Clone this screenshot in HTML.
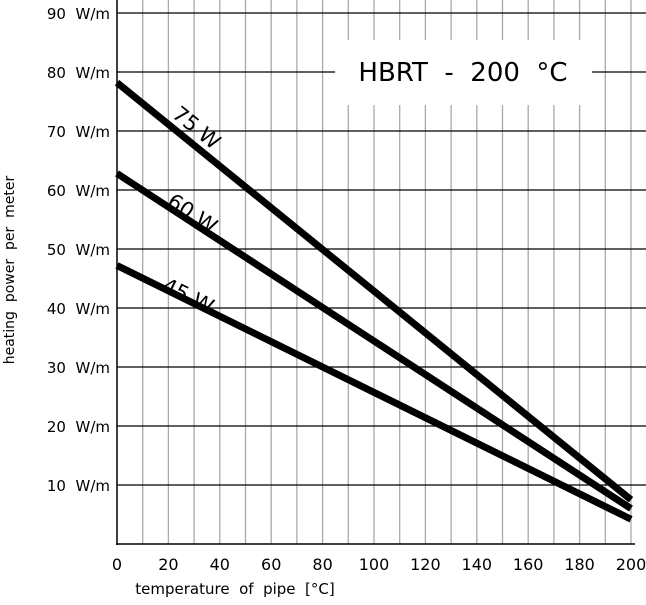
<!DOCTYPE html>
<html><head><meta charset="utf-8"><style>
body{margin:0;background:#fff}
svg text{font-family:"DejaVu Sans","Liberation Sans",sans-serif;fill:#000;white-space:pre}
</style></head><body>
<svg width="646" height="600" xmlns="http://www.w3.org/2000/svg">
<g id="grid"></g>
<g id="series"></g>
<g id="labels"></g>
</svg>
<script>
const xTicks=[0,20,40,60,80,100,120,140,160,180,200];
const yTicks=[10,20,30,40,50,60,70,80,90];
const seriesNames=["75 W","60 W","45 W"];
const startValues=[78.2,62.8,47.2];
const endValues=[7.5,6.0,4.2];
const labelAt=[[21,72.5],[19,57.5],[17,43]];
const NS="http://www.w3.org/2000/svg";
const X=v=>117+v*(631-117)/200;
const Y=v=>544-v*(544-13)/90;
function mk(t,a,p){const e=document.createElementNS(NS,t);for(const k in a)e.setAttribute(k,a[k]);p.appendChild(e);return e;}
const g=document.getElementById('grid'),s=document.getElementById('series'),l=document.getElementById('labels');
for(let v=10;v<=200;v+=10){const e=mk('line',{x1:X(v),x2:X(v),y1:0,y2:544,stroke:'#aaa','stroke-width':1.3},g);

}
yTicks.forEach(v=>{const e=mk('line',{x1:117,x2:646,y1:Y(v),y2:Y(v),stroke:'#000','stroke-width':1.2},g);


const t=mk('text',{x:110,y:Y(v)+6,'text-anchor':'end','font-size':15},l);t.textContent=v+"  W/m";

});
let a=mk('line',{x1:117,x2:117,y1:0,y2:545,stroke:'#000','stroke-width':1.5},g);


a=mk('line',{x1:116,x2:635,y1:544,y2:544,stroke:'#000','stroke-width':1.5},g);


xTicks.forEach(v=>{const t=mk('text',{x:X(v),y:570,'text-anchor':'middle','font-size':16},l);t.textContent=v;

});
const r=mk('rect',{x:335,y:40,width:257,height:65,fill:'#fff'},g);


const tt=mk('text',{x:463,y:81,'text-anchor':'middle','font-size':26},l);tt.textContent="HBRT  -  200  °C";


seriesNames.forEach((n,i)=>{const e=mk('line',{x1:X(0),y1:Y(startValues[i]),x2:X(200),y2:Y(endValues[i]),stroke:'#000','stroke-width':7},s);


const ang=Math.atan2(Y(endValues[i])-Y(startValues[i]),X(200)-X(0))*180/Math.PI;
const lx=X(labelAt[i][0]),ly=Y(labelAt[i][1]);
const t=mk('text',{x:lx,y:ly,'font-size':21,transform:`rotate(${ang} ${lx} ${ly})`},l);t.textContent=n;

});
let yt=mk('text',{x:0,y:0,'text-anchor':'middle','font-size':14,transform:'translate(14 270) rotate(-90)'},l);yt.textContent="heating  power  per  meter";


let xt=mk('text',{x:235,y:594,'text-anchor':'middle','font-size':15},l);xt.textContent="temperature  of  pipe  [°C]";


</script>
</body></html>
